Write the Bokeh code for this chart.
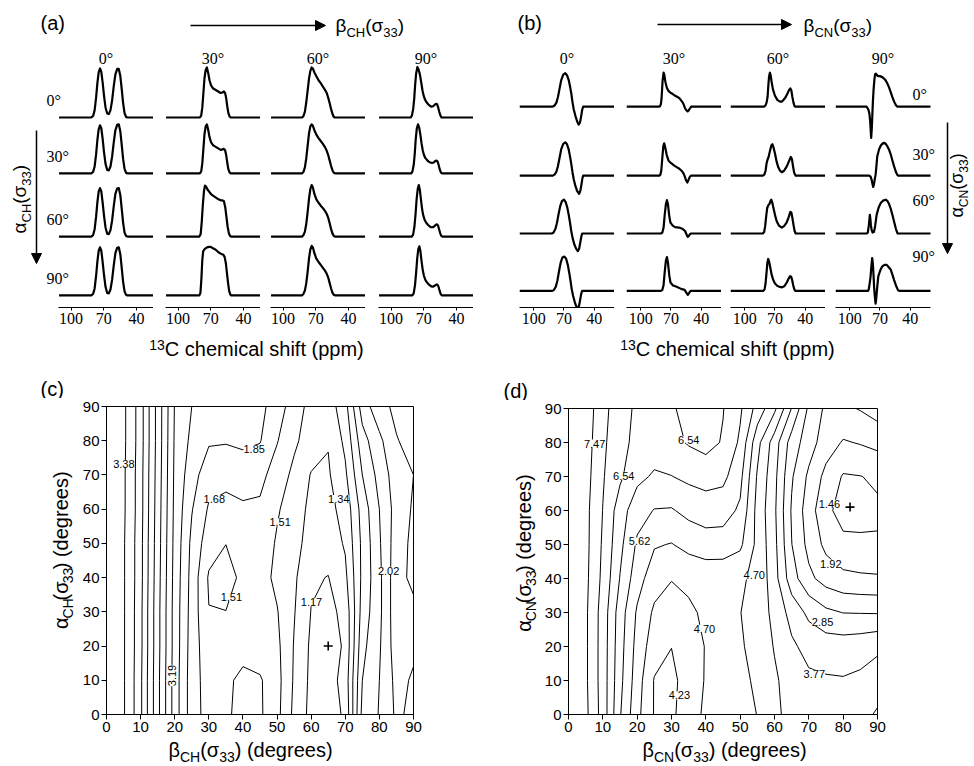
import numpy as np
from bokeh.plotting import figure
from bokeh.layouts import row, column
from bokeh.models import Range1d, Label, Arrow, NormalHead, FixedTicker, Spacer
from bokeh.embed import file_html
from bokeh.resources import INLINE

# ======================= DATA =======================
ANGLES = [0, 30, 60, 90]
ANGLE_TEXT = ["0°", "30°", "60°", "90°"]
PPM_TICKS = [100, 70, 40]

# ---- panel (a): CH dipolar-coupled spectra, (ppm, intensity)
A_B00_A00 = [(111,0),(81.5,0),(79.8,0.03),(78.4,0.15),(77.1,0.4),(75.9,0.7),(74.7,0.92),(73.5,1.0),(72.3,0.93),(71.1,0.72),(69.8,0.44),(68.4,0.2),(66.9,0.08),(65.4,0.07),(63.9,0.15),(62.4,0.35),(60.9,0.64),(59.4,0.88),(57.8,0.99),(56.3,0.99),(54.9,0.85),(53.6,0.58),(52.3,0.29),(51,0.09),(49.6,0.01),(48.3,0),(24,0)]
A_B00_A30 = [(111,0),(81.5,0),(79.8,0.03),(78.4,0.14),(77.1,0.38),(75.9,0.68),(74.7,0.9),(73.5,0.98),(72.3,0.92),(71.1,0.71),(69.8,0.43),(68.4,0.19),(66.9,0.07),(65.4,0.06),(63.9,0.14),(62.4,0.34),(60.9,0.63),(59.4,0.88),(57.8,0.99),(56.3,1.0),(54.9,0.86),(53.6,0.58),(52.3,0.29),(51,0.09),(49.6,0.01),(48.3,0),(24,0)]
A_B00_A60 = [(111,0),(81.5,0),(79.8,0.03),(78.4,0.15),(77.1,0.4),(75.9,0.7),(74.7,0.92),(73.5,0.99),(72.3,0.92),(71.1,0.7),(69.8,0.42),(68.4,0.18),(66.9,0.06),(65.4,0.05),(63.9,0.13),(62.4,0.33),(60.9,0.62),(59.4,0.87),(57.8,0.98),(56.3,0.99),(54.9,0.85),(53.6,0.57),(52.3,0.28),(51,0.08),(49.6,0.01),(48.3,0),(24,0)]
A_B00_A90 = [(111,0),(81.5,0),(79.8,0.03),(78.4,0.14),(77.1,0.39),(75.9,0.69),(74.7,0.91),(73.5,0.98),(72.3,0.91),(71.1,0.69),(69.8,0.41),(68.4,0.17),(66.9,0.05),(65.4,0.04),(63.9,0.12),(62.4,0.32),(60.9,0.61),(59.4,0.86),(57.8,0.97),(56.3,0.98),(54.9,0.84),(53.6,0.56),(52.3,0.27),(51,0.08),(49.6,0.01),(48.3,0),(24,0)]
A_B30_A00 = [(111,0),(80,0),(78.8,0.04),(77.8,0.2),(76.8,0.5),(75.8,0.8),(74.7,0.97),(73.6,1.02),(72.5,0.92),(71.2,0.76),(69.7,0.65),(67.8,0.59),(65.5,0.56),(63.2,0.53),(61,0.5),(59.4,0.51),(58,0.53),(56.9,0.5),(55.9,0.39),(54.9,0.22),(53.9,0.09),(52.8,0.02),(51.8,0),(24,0)]
A_B30_A30 = [(111,0),(80,0),(78.8,0.04),(77.8,0.2),(76.8,0.5),(75.8,0.8),(74.7,0.96),(73.6,1.0),(72.5,0.9),(71.2,0.74),(69.7,0.63),(67.8,0.57),(65.5,0.54),(63.2,0.51),(61,0.48),(59.4,0.49),(58,0.5),(56.9,0.47),(55.9,0.37),(54.9,0.21),(53.9,0.08),(52.8,0.02),(51.8,0),(24,0)]
A_B30_A60 = [(111,0),(80.5,0),(79.3,0.05),(78.3,0.3),(77.3,0.65),(76.3,0.92),(75.4,1.04),(74.4,1.02),(73,0.96),(71,0.9),(69,0.85),(67,0.82),(65,0.79),(63,0.76),(61,0.74),(59.3,0.74),(58,0.72),(56.8,0.6),(55.7,0.4),(54.6,0.2),(53.4,0.06),(52.3,0.01),(51.5,0),(24,0)]
A_B30_A90 = [(111,0),(80.5,0),(79.5,0.05),(78.6,0.35),(77.8,0.72),(77,0.9),(75.5,0.95),(73.5,0.98),(71.5,0.99),(70,0.99),(68,0.96),(65.5,0.93),(63,0.88),(60.9,0.85),(58.5,0.83),(57.3,0.78),(56.2,0.65),(55.2,0.45),(54.2,0.25),(53.2,0.09),(52.2,0.02),(51.3,0),(24,0)]
A_B60_A00 = [(111,0),(82.5,0),(81.3,0.03),(80,0.12),(78.8,0.3),(77.5,0.55),(76.2,0.8),(75,0.95),(73.8,1.02),(72.7,1.0),(71.3,0.92),(69.5,0.84),(67.5,0.76),(65.5,0.7),(63.5,0.63),(61.5,0.56),(60,0.5),(58.6,0.4),(57.3,0.29),(56,0.17),(54.7,0.07),(53.5,0.01),(52.5,0),(24,0)]
A_B60_A30 = [(111,0),(82.5,0),(81.3,0.03),(80,0.12),(78.8,0.3),(77.5,0.56),(76.2,0.82),(75,0.96),(73.8,1.0),(72.7,0.97),(71.3,0.88),(69.5,0.79),(67.5,0.72),(65.5,0.66),(63.5,0.6),(61.5,0.53),(60,0.46),(58.6,0.37),(57.3,0.26),(56,0.15),(54.7,0.06),(53.5,0.01),(52.5,0),(24,0)]
A_B60_A60 = [(111,0),(82.5,0),(81.3,0.03),(80,0.1),(78.8,0.25),(77.5,0.5),(76.2,0.78),(75,0.97),(73.8,1.05),(72.7,1.0),(71.3,0.87),(69.5,0.76),(67.5,0.69),(65.5,0.63),(63.5,0.58),(61.5,0.52),(60,0.46),(58.6,0.38),(57.3,0.27),(56,0.15),(54.7,0.06),(53.5,0.01),(52.5,0),(24,0)]
A_B60_A90 = [(111,0),(82.5,0),(81.3,0.03),(80,0.1),(78.8,0.24),(77.5,0.48),(76.2,0.76),(75,0.94),(73.8,1.01),(72.7,0.98),(71.3,0.86),(69.5,0.75),(67.5,0.68),(65.5,0.62),(63.5,0.56),(61.5,0.5),(60,0.44),(58.6,0.36),(57.3,0.25),(56,0.14),(54.7,0.05),(53.5,0.01),(52.5,0),(24,0)]
A_B90_A00 = [(111,0),(82,0),(80.9,0.04),(79.7,0.18),(78.8,0.38),(77.9,0.68),(77,0.9),(75.9,1.03),(74.8,0.98),(73.6,0.88),(72.4,0.72),(71.2,0.55),(70.1,0.44),(69,0.37),(67.5,0.31),(66,0.27),(64.5,0.24),(63,0.22),(61.5,0.23),(60,0.26),(58.8,0.28),(57.8,0.27),(56.8,0.2),(55.8,0.11),(54.8,0.04),(53.8,0),(24,0)]
A_B90_A30 = [(111,0),(81.5,0),(80.4,0.04),(79.2,0.18),(78.3,0.4),(77.4,0.7),(76.4,0.92),(75.3,1.0),(74.2,0.93),(73.1,0.78),(72,0.6),(70.9,0.46),(69.8,0.37),(68.5,0.31),(67,0.27),(65.5,0.24),(64,0.22),(62.5,0.21),(61,0.22),(59.6,0.25),(58.4,0.26),(57.4,0.24),(56.4,0.17),(55.4,0.08),(54.4,0.02),(53.5,0),(24,0)]
A_B90_A60 = [(111,0),(81,0),(79.8,0.04),(78.6,0.2),(77.6,0.45),(76.6,0.76),(75.6,0.97),(74.6,1.05),(73.6,0.95),(72.6,0.75),(71.5,0.55),(70.4,0.42),(69.2,0.34),(67.8,0.28),(66.3,0.24),(64.8,0.21),(63.3,0.19),(61.8,0.19),(60.3,0.21),(59,0.24),(57.9,0.25),(56.9,0.22),(55.9,0.14),(54.9,0.06),(53.9,0.01),(53,0),(24,0)]
A_B90_A90 = [(111,0),(80.5,0),(79.3,0.04),(78.1,0.2),(77.1,0.45),(76.1,0.74),(75.1,0.94),(74.1,1.0),(73.1,0.9),(72.1,0.7),(71,0.52),(69.9,0.4),(68.7,0.32),(67.3,0.27),(65.8,0.23),(64.3,0.2),(62.8,0.18),(61.3,0.18),(59.8,0.2),(58.6,0.22),(57.6,0.22),(56.6,0.18),(55.6,0.1),(54.6,0.03),(53.6,0),(24,0)]

# ---- panel (b): CN dipolar-coupled spectra
B_B00_A00 = [(114,0),(81,0),(79.3,0.02),(77.5,0.08),(76,0.19),(74.3,0.37),(72.7,0.54),(70.7,0.65),(68.7,0.68),(67,0.64),(65.3,0.54),(64,0.41),(62.7,0.26),(61.5,0.08),(60.3,-0.06),(58.7,-0.19),(57,-0.3),(55.5,-0.37),(54.2,-0.33),(53,-0.2),(52,-0.07),(51,0),(20,0)]
B_B00_A30 = [(114,0),(81,0),(79.3,0.02),(77.5,0.08),(76,0.19),(74.3,0.37),(72.7,0.54),(70.7,0.65),(68.7,0.68),(67,0.64),(65.3,0.53),(64,0.39),(62.7,0.23),(61.5,0.06),(60.3,-0.08),(58.7,-0.21),(57,-0.31),(55,-0.37),(53.8,-0.31),(52.7,-0.18),(51.8,-0.06),(51,0),(20,0)]
B_B00_A60 = [(114,0),(82,0),(80.3,0.02),(78.5,0.09),(77,0.21),(75.3,0.4),(73.7,0.56),(72,0.66),(70,0.69),(68.3,0.64),(66.7,0.53),(65.3,0.38),(64,0.22),(62.8,0.05),(61.5,-0.09),(59.8,-0.22),(58,-0.31),(56.3,-0.36),(55,-0.31),(53.8,-0.18),(52.8,-0.06),(52,0),(20,0)]
B_B00_A90 = [(114,0),(81.5,0),(79.8,0.02),(78,0.09),(76.5,0.21),(74.8,0.41),(73.2,0.58),(71.5,0.68),(69.5,0.7),(67.8,0.65),(66.2,0.53),(64.8,0.37),(63.5,0.2),(62.3,0.03),(61,-0.1),(59.3,-0.23),(57.8,-0.32),(56.3,-0.36),(55,-0.3),(53.8,-0.16),(52.8,-0.05),(52,0),(20,0)]
B_B30_A00 = [(114,0),(81.5,0),(80.7,0.01),(79.9,0.06),(79.3,0.17),(78.3,0.52),(77.3,0.69),(76.5,0.64),(75.5,0.5),(74,0.38),(72.5,0.32),(70.5,0.28),(68.5,0.26),(66.7,0.23),(64,0.2),(61.7,0.17),(59.8,0.12),(58.3,0.08),(57.2,0.03),(56.2,-0.03),(55,-0.07),(53.5,-0.1),(52.5,-0.08),(51.3,-0.04),(50,0),(20,0)]
B_B30_A30 = [(114,0),(81.5,0),(80.5,0.02),(79.6,0.1),(78.6,0.35),(77.6,0.6),(76.7,0.66),(75.7,0.58),(74.3,0.43),(72.5,0.31),(70.2,0.26),(67,0.21),(64,0.17),(61.7,0.14),(59,0.09),(57.5,0.04),(56.3,-0.02),(55,-0.1),(53.8,-0.14),(52.7,-0.09),(51.5,-0.03),(50.3,0),(20,0)]
B_B30_A60 = [(114,0),(80,0),(78.5,0.02),(77.3,0.12),(76.2,0.38),(75,0.6),(74,0.68),(73,0.6),(71.7,0.36),(70.5,0.22),(68.3,0.16),(66,0.13),(62,0.12),(58.3,0.09),(56,0.05),(55,0),(54,-0.05),(53.3,-0.07),(52.3,-0.05),(51,-0.01),(50,0),(20,0)]
B_B30_A90 = [(114,0),(80,0),(78.5,0.02),(77.3,0.12),(76.2,0.38),(75,0.62),(74,0.69),(73,0.58),(71.7,0.32),(70.5,0.17),(68,0.11),(65,0.09),(60,0.04),(56.5,0.02),(55,-0.03),(53.3,-0.08),(52.3,-0.05),(51,-0.01),(50,0),(20,0)]
B_B60_A00 = [(114,0),(80.5,0),(79.5,0.02),(78.3,0.08),(77.3,0.2),(76.5,0.45),(75.8,0.62),(75,0.69),(74.2,0.63),(73.3,0.5),(72,0.35),(70,0.22),(67.5,0.13),(65,0.1),(63.3,0.1),(61.7,0.13),(59.5,0.19),(57.5,0.27),(56,0.34),(54.8,0.37),(53.8,0.33),(52.8,0.2),(51.7,0.08),(50.7,0.01),(50,0),(20,0)]
B_B60_A30 = [(114,0),(82,0),(80.5,0.02),(79.3,0.1),(78.3,0.25),(77.3,0.33),(76.3,0.38),(75,0.5),(73.5,0.62),(72.5,0.64),(71.5,0.58),(70,0.45),(68.3,0.28),(66.7,0.17),(65,0.1),(63.3,0.07),(61,0.1),(58.3,0.19),(56,0.3),(54.3,0.38),(53.2,0.34),(52.2,0.2),(51,0.06),(49.5,0),(20,0)]
B_B60_A60 = [(114,0),(82,0),(80.7,0.03),(79.7,0.15),(78.7,0.35),(77.7,0.52),(76.5,0.58),(75.5,0.6),(74.5,0.66),(73.7,0.69),(72.8,0.64),(71.5,0.52),(70,0.38),(68.3,0.25),(66,0.16),(63.3,0.12),(61,0.15),(58.5,0.22),(56.5,0.33),(54.8,0.44),(53.8,0.43),(52.8,0.32),(51.7,0.18),(50.7,0.06),(49.5,0),(20,0)]
B_B60_A90 = [(114,0),(81.5,0),(80.3,0.03),(79.3,0.15),(78.3,0.38),(77.5,0.58),(76.7,0.65),(75.8,0.6),(74.7,0.48),(73.3,0.33),(71.7,0.22),(70,0.15),(67.5,0.1),(65,0.08),(63,0.07),(60.5,0.1),(58.3,0.17),(56.5,0.25),(55,0.3),(54,0.29),(53,0.22),(52,0.12),(51,0.04),(50,0),(20,0)]
B_B90_A00 = [(114,0),(83.5,0),(82.7,-0.02),(81.5,-0.06),(80.5,-0.14),(79.7,-0.3),(79,-0.55),(78.7,-0.64),(78.1,-0.45),(77.5,-0.15),(77,0.1),(76.3,0.35),(75.5,0.55),(74.8,0.66),(74,0.67),(73,0.64),(72,0.62),(70,0.62),(67.7,0.6),(66,0.57),(64.3,0.53),(62.7,0.47),(61,0.39),(59.3,0.29),(57.7,0.19),(56,0.1),(54.3,0.03),(53,0),(20,0)]
B_B90_A30 = [(114,0),(80.5,0),(79.3,-0.02),(78.3,-0.08),(77.3,-0.18),(76.7,-0.23),(76,-0.18),(75.3,-0.09),(74.3,0.02),(73.5,0.2),(72.7,0.39),(71,0.53),(69.3,0.61),(67.7,0.65),(66,0.67),(64.3,0.65),(62.7,0.6),(61,0.53),(59.3,0.43),(57.7,0.31),(56,0.19),(54.3,0.08),(52.7,0.01),(52,0),(20,0)]
B_B90_A60 = [(114,0),(83,0),(82,0.02),(81,0.17),(80.3,0.32),(80,0.38),(79.5,0.3),(79,0.17),(78.2,0.07),(77.3,0.02),(76,0.03),(75,0.12),(73.3,0.38),(71.3,0.53),(69.3,0.62),(67,0.67),(64.3,0.69),(62.5,0.66),(61,0.6),(59.3,0.5),(57.7,0.38),(56,0.24),(54.3,0.1),(53.2,0.03),(52.5,0),(20,0)]
B_B90_A90 = [(114,0),(81.7,0),(81,0.04),(80.2,0.15),(79.3,0.29),(78.5,0.5),(77.7,0.67),(77,0.55),(76.3,0.29),(75.8,0.08),(75.3,-0.06),(74.8,-0.18),(74.3,-0.26),(73.8,-0.18),(73.3,-0.06),(72.5,0.12),(71.7,0.29),(69.7,0.42),(67.7,0.5),(65.5,0.53),(63.3,0.53),(61.3,0.48),(59.3,0.43),(57.7,0.33),(56,0.22),(54,0.1),(52,0.01),(51,0),(20,0)]

# ---- panel (c): grid (rows = alpha_CH, columns = beta_CH)
C_BETA = [0, 5, 10, 15, 20, 25, 30, 35, 40, 45, 50, 55, 60, 65, 70, 75, 80, 85, 90]
C_ALPHA = [0, 10, 20, 30, 40, 50, 60, 70, 80, 90]
C_Z_A00 = [3.50, 3.40, 3.06, 2.58, 2.11, 1.76, 1.61, 1.53, 1.47, 1.50, 1.56, 1.30, 1.12, 1.08, 1.20, 1.90, 2.03, 2.22, 2.15]
C_Z_A10 = [3.50, 3.40, 3.06, 2.58, 2.11, 1.76, 1.60, 1.535, 1.48, 1.50, 1.57, 1.32, 1.13, 1.09, 1.24, 1.85, 2.02, 2.24, 2.17]
C_Z_A20 = [3.50, 3.40, 3.07, 2.59, 2.12, 1.77, 1.57, 1.53, 1.555, 1.56, 1.55, 1.33, 1.14, 1.07, 1.20, 1.80, 2.00, 2.28, 2.22]
C_Z_A30 = [3.50, 3.40, 3.07, 2.59, 2.12, 1.78, 1.515, 1.512, 1.56, 1.58, 1.52, 1.35, 1.165, 1.12, 1.22, 1.75, 1.98, 2.30, 2.32]
C_Z_A40 = [3.50, 3.40, 3.08, 2.60, 2.13, 1.79, 1.49, 1.46, 1.54, 1.58, 1.47, 1.37, 1.19, 1.165, 1.30, 1.72, 1.98, 2.30, 2.40]
C_Z_A50 = [3.50, 3.40, 3.08, 2.61, 2.14, 1.81, 1.585, 1.512, 1.59, 1.62, 1.49, 1.40, 1.27, 1.24, 1.36, 1.72, 2.00, 2.28, 2.40]
C_Z_A60 = [3.50, 3.41, 3.09, 2.62, 2.15, 1.86, 1.66, 1.64, 1.66, 1.65, 1.53, 1.42, 1.30, 1.29, 1.40, 1.75, 2.02, 2.26, 2.38]
C_Z_A70 = [3.51, 3.41, 3.09, 2.63, 2.16, 1.92, 1.75, 1.72, 1.74, 1.73, 1.60, 1.47, 1.33, 1.32, 1.48, 1.85, 2.08, 2.28, 2.36]
C_Z_A80 = [3.51, 3.42, 3.10, 2.64, 2.17, 1.98, 1.87, 1.865, 1.89, 1.86, 1.69, 1.54, 1.43, 1.35, 1.55, 1.95, 2.15, 2.35, 2.42]
C_Z_A90 = [3.52, 3.42, 3.10, 2.64, 2.18, 2.02, 1.92, 1.91, 1.93, 1.90, 1.76, 1.60, 1.45, 1.42, 1.62, 2.10, 2.30, 2.40, 2.50]
C_LEVELS = [1.17, 1.34, 1.51, 1.68, 1.85, 2.02, 2.19, 2.36, 2.53, 2.70, 2.87, 3.03, 3.19, 3.38]
C_LABEL_TEXT = ["3.38", "1.85", "1.68", "1.34", "1.51", "1.51", "1.17", "2.02", "3.19"]
C_LABEL_BETA = [5.1, 43.3, 31.6, 68.1, 50.9, 36.6, 60.1, 82.7, 19.2]
C_LABEL_ALPHA = [73.2, 77.6, 63.0, 63.0, 56.2, 34.3, 32.8, 42.0, 11.4]
C_LABEL_ROT = [0, 0, 0, 0, 0, 0, 0, 0, 90]
C_MIN_BETA = [65]
C_MIN_ALPHA = [20]

# ---- panel (d): grid (rows = alpha_CN, columns = beta_CN)
D_BETA = [0, 5, 10, 15, 20, 25, 30, 35, 40, 45, 50, 55, 60, 65, 70, 75, 80, 85, 90]
D_ALPHA = [0, 10, 20, 30, 40, 50, 60, 70, 80, 90]
D_Z_A00 = [7.90, 7.58, 6.82, 5.66, 4.83, 4.20, 4.10, 4.60, 4.74, 4.88, 4.88, 4.69, 4.35, 4.05, 3.95, 3.90, 3.92, 4.05, 4.30]
D_Z_A10 = [7.90, 7.55, 6.80, 5.75, 4.92, 4.20, 4.05, 4.55, 4.72, 4.85, 4.82, 4.62, 4.30, 4.02, 3.86, 3.82, 3.80, 3.85, 3.95]
D_Z_A20 = [7.90, 7.55, 6.80, 5.80, 5.00, 4.45, 4.24, 4.50, 4.72, 4.80, 4.75, 4.55, 4.20, 3.85, 3.62, 3.55, 3.55, 3.60, 3.70]
D_Z_A30 = [7.90, 7.55, 6.81, 5.85, 5.10, 4.62, 4.48, 4.62, 4.78, 4.78, 4.71, 4.50, 4.10, 3.60, 3.20, 2.95, 2.84, 2.83, 2.82]
D_Z_A40 = [7.90, 7.58, 6.90, 6.06, 5.35, 4.90, 4.72, 4.80, 4.86, 4.82, 4.76, 4.60, 3.95, 3.05, 2.50, 2.20, 2.05, 2.00, 1.98]
D_Z_A50 = [7.90, 7.60, 6.95, 6.20, 5.55, 5.20, 5.14, 5.30, 5.40, 5.42, 5.25, 4.58, 3.90, 2.86, 2.25, 1.80, 1.55, 1.52, 1.50]
D_Z_A60 = [7.90, 7.60, 7.00, 6.30, 5.80, 5.60, 5.58, 5.75, 5.85, 5.80, 5.55, 4.55, 3.85, 2.80, 2.15, 1.55, 1.32, 1.35, 1.40]
D_Z_A70 = [7.90, 7.65, 7.05, 6.62, 6.20, 6.02, 6.07, 6.18, 6.25, 6.20, 5.75, 4.65, 3.90, 2.90, 2.30, 1.78, 1.42, 1.45, 1.52]
D_Z_A80 = [7.90, 7.70, 7.10, 6.70, 6.40, 6.32, 6.40, 6.58, 6.70, 6.50, 6.00, 4.85, 4.00, 3.10, 2.60, 2.15, 1.88, 1.95, 2.05]
D_Z_A90 = [7.92, 7.75, 7.15, 6.75, 6.45, 6.42, 6.50, 6.65, 6.75, 6.56, 6.15, 5.45, 4.80, 3.75, 2.75, 2.30, 2.30, 2.42, 2.60]
D_LEVELS = [1.46, 1.92, 2.39, 2.85, 3.31, 3.77, 4.23, 4.70, 5.16, 5.62, 6.08, 6.54, 7.01, 7.47]
D_LABEL_TEXT = ["7.47", "6.54", "6.54", "5.62", "4.70", "4.70", "4.23", "3.77", "2.85", "1.92", "1.46"]
D_LABEL_BETA = [7.6, 16.1, 35.0, 20.7, 54.1, 39.6, 32.3, 71.6, 74.0, 76.4, 76.0]
D_LABEL_ALPHA = [79.7, 70.2, 80.7, 50.9, 40.9, 25.2, 5.6, 12.0, 27.2, 44.4, 62.0]
D_MIN_BETA = [82]
D_MIN_ALPHA = [61]

# ======================= HELPERS =======================
SANS = "Liberation Sans"
SERIF = "Liberation Serif"
INK = "black"
EM = {'(': .333, ')': .333, ' ': .278, '.': .278, 'C': .722, 'H': .722, 'N': .722,
      'd': .556, 'e': .556, 'g': .556, 'r': .333, 's': .5, 'β': .575, 'σ': .617,
      'α': .578, 'c': .5, 'h': .556, 'm': .833, 'i': .222, 'a': .556, 'l': .222,
      'f': .278, 't': .278, 'p': .556}


def tw(s, size):
    return sum(EM.get(ch, .556) for ch in s) * size


def rich(p, x0, y0, pieces, size, small, sx=1.0, sy=1.0, vertical=False, center=False):
    """Text with sub/superscripts built from pieces placed along a baseline (x0, y0).
    pieces: (text, kind) with kind 'n', 'sub' or 'sup'; sx/sy = data units per screen pixel."""
    widths = [tw(t, small if k != 'n' else size) for t, k in pieces]
    pos = -sum(widths) / 2 if center else 0.0
    for (t, k), w in zip(pieces, widths):
        fs = size if k == 'n' else small
        shift = {'n': 0.0, 'sub': -0.28 * size, 'sup': 0.30 * size}[k]
        mid = shift + 0.33 * fs          # centre of the glyph box above the baseline
        if vertical:
            x, y, ang = x0 - mid * sx, y0 + pos * sy, np.pi / 2
        else:
            x, y, ang = x0 + pos * sx, y0 + mid * sy, 0.0
        p.add_layout(Label(x=x, y=y, text=t, angle=ang, text_font=SANS,
                           text_font_size=f"{fs}px", text_align="left",
                           text_baseline="middle", text_color=INK))
        pos += w


def plain(width, height):
    p = figure(width=width, height=height, x_range=Range1d(0, width), y_range=Range1d(0, height),
               output_backend="svg", toolbar_location=None, title=None,
               x_axis_location=None, y_axis_location=None, min_border=0)
    p.outline_line_color = None
    p.xgrid.visible = False
    p.ygrid.visible = False
    return p


def spec_col(width, xr, yr, head, head_y, spectra, offsets, bounds=None):
    p = figure(width=width, height=290, x_range=xr, y_range=yr, output_backend="svg",
               toolbar_location=None, y_axis_location=None, title=None,
               min_border_left=0, min_border_right=0, min_border_top=0, min_border_bottom=28)
    p.outline_line_color = None
    p.xgrid.visible = False
    p.ygrid.visible = False
    for pts, off in zip(spectra, offsets):
        p.line([q[0] for q in pts], [q[1] + off for q in pts],
               line_color="black", line_width=2.2, line_join="round")
    lo, hi = (bounds if bounds else (min(xr.start, xr.end), max(xr.start, xr.end)))
    p.add_layout(Label(x=(lo + hi) / 2, y=head_y, text=head, text_font=SERIF, text_color=INK,
                       text_font_size="16px", text_align="center", text_baseline="middle"))
    ax = p.xaxis[0]
    ax.ticker = FixedTicker(ticks=PPM_TICKS, minor_ticks=[])
    if bounds:
        ax.bounds = bounds
    ax.major_label_text_font = "Liberation Sans Narrow"
    ax.major_label_text_font_size = "16px"
    ax.major_label_text_color = INK
    ax.major_tick_out = 3
    ax.major_tick_in = 0
    ax.minor_tick_out = 0
    ax.minor_tick_in = 0
    ax.major_label_standoff = 2
    ax.axis_line_width = 1
    ax.axis_line_color = INK
    ax.major_tick_line_color = INK
    return p


def head_arrow(p, xs, ys, xe, ye):
    p.add_layout(Arrow(end=NormalHead(size=10, fill_color="black", line_color="black"),
                       x_start=xs, y_start=ys, x_end=xe, y_end=ye,
                       line_width=1.5, line_color="black"))


# ======================= TOP: panels (a) and (b) =======================
PX = 49.0  # screen pixels per intensity unit
A_OFF = [0, -1.14, -2.43, -3.63]
B_OFF = [0, -1.41, -2.59, -3.76]
yA = Range1d(-3.878, 1.469)
yB = Range1d(-4.10, 1.245)

A_SPEC = [[A_B00_A00, A_B00_A30, A_B00_A60, A_B00_A90],
          [A_B30_A00, A_B30_A30, A_B30_A60, A_B30_A90],
          [A_B60_A00, A_B60_A30, A_B60_A60, A_B60_A90],
          [A_B90_A00, A_B90_A30, A_B90_A60, A_B90_A90]]
B_SPEC = [[B_B00_A00, B_B00_A30, B_B00_A60, B_B00_A90],
          [B_B30_A00, B_B30_A30, B_B30_A60, B_B30_A90],
          [B_B60_A00, B_B60_A30, B_B60_A60, B_B60_A90],
          [B_B90_A00, B_B90_A30, B_B90_A60, B_B90_A90]]

pxA = 95 / 87.0      # px per ppm in (a)
pxB = 95 / 94.0      # px per ppm in (b)
colsA = [spec_col(153, Range1d(111.5 + 58 / pxA, 24.5), yA, ANGLE_TEXT[0], 1.204,
                  A_SPEC[0], A_OFF, bounds=(24.5, 111.5))]
colsA += [spec_col(95, Range1d(111.5, 24.5), yA, ANGLE_TEXT[i], 1.204, A_SPEC[i], A_OFF)
          for i in range(1, 4)]
colsB = [spec_col(95, Range1d(114, 20), yB, ANGLE_TEXT[i], 0.98, B_SPEC[i], B_OFF)
         for i in range(3)]
colsB += [spec_col(137, Range1d(114, 20 - 42 / pxB), yB, ANGLE_TEXT[3], 0.98,
                   B_SPEC[3], B_OFF, bounds=(20, 114))]

# (a) row labels, alpha arrow and alpha title inside the widened first column
c1 = colsA[0]
for off, t in zip(A_OFF, ANGLE_TEXT):
    c1.add_layout(Label(x=111.5 + 12 / pxA, y=off + 0.35, text=t, text_font=SERIF, text_color=INK,
                        text_font_size="16px", text_align="left", text_baseline="middle"))
head_arrow(c1, 111.5 + 22 / pxA, -0.265, 111.5 + 22 / pxA, -2.98)
rich(c1, 111.5 + 33 / pxA, -2.367, [("α", 'n'), ("CH", 'sub'), ("(σ", 'n'), ("33", 'sub'), (")", 'n')],
     19, 13, sx=-1 / pxA, sy=1 / PX, vertical=True)

# (b) row labels, alpha arrow and alpha title inside the widened last column
c4 = colsB[3]
B_ROW_LABEL_Y = [0.245, -0.97, -1.92, -3.05]
for yy, t in zip(B_ROW_LABEL_Y, ANGLE_TEXT):
    c4.add_layout(Label(x=114 - 77 / pxB, y=yy, text=t, text_font=SERIF, text_font_size="16px",
                        text_color=INK, text_align="left", text_baseline="middle"))
head_arrow(c4, 20 - 17 / pxB, -0.327, 20 - 17 / pxB, -3.0)
rich(c4, 20 - 32 / pxB, -2.265, [("α", 'n'), ("CN", 'sub'), ("(σ", 'n'), ("33", 'sub'), (")", 'n')],
     18, 12, sx=-1 / pxB, sy=1 / PX, vertical=True)

# header
header = plain(972, 45)
header.add_layout(Label(x=40, y=23, text="(a)", text_font=SANS, text_font_size="20px",
                        text_color=INK, text_baseline="middle"))
header.add_layout(Label(x=517, y=23, text="(b)", text_font=SANS, text_font_size="20px",
                        text_color=INK, text_baseline="middle"))
head_arrow(header, 190, 20, 325, 20)
head_arrow(header, 657, 21, 791, 21)
rich(header, 335, 14, [("β", 'n'), ("CH", 'sub'), ("(σ", 'n'), ("33", 'sub'), (")", 'n')], 19, 13)
rich(header, 803, 14, [("β", 'n'), ("CN", 'sub'), ("(σ", 'n'), ("33", 'sub'), (")", 'n')], 19, 13)

# footer (x-axis titles of the spectra)
footer = plain(972, 27)
for cx in (256, 727):
    rich(footer, cx, 7, [("13", 'sup'), ("C chemical shift (ppm)", 'n')], 20, 14, center=True)

top_row = row(colsA[0], Spacer(width=12, height=290), colsA[1],
              Spacer(width=10, height=290), colsA[2], Spacer(width=13, height=290), colsA[3],
              Spacer(width=46, height=290), colsB[0], Spacer(width=12, height=290), colsB[1],
              Spacer(width=9, height=290), colsB[2], Spacer(width=10, height=290), colsB[3])


# ======================= BOTTOM: contour maps (c) and (d) =======================
def contour_block(tag_h, ylab_w, right, frame_w, frame_h, beta, alpha, rows, levels,
                  ltext, lbeta, lalpha, lrot, mb, ma, tag, tag_x, sub, ylab_center, ylab_x, xlab_cx):
    plot_w = 26 + frame_w + right
    plot_h = 8 + frame_h + 26
    total_w = ylab_w + plot_w
    p = figure(width=plot_w, height=plot_h, x_range=Range1d(0, 90), y_range=Range1d(0, 90),
               output_backend="svg", toolbar_location=None, title=None,
               min_border_left=26, min_border_right=right, min_border_top=8, min_border_bottom=26)
    p.xgrid.visible = False
    p.ygrid.visible = False
    p.outline_line_color = "black"
    p.outline_line_width = 1
    p.contour(x=beta, y=alpha, z=np.array(rows, dtype=float), levels=levels,
              line_color="black", line_width=1)
    p.scatter(x=mb, y=ma, marker="cross", size=9, line_color="black", line_width=1.6)
    for ax in (p.xaxis[0], p.yaxis[0]):
        ax.ticker = FixedTicker(ticks=list(range(0, 91, 10)), minor_ticks=[])
        ax.major_label_text_font = SANS
        ax.major_label_text_font_size = "15px"
        ax.major_label_text_color = INK
        ax.axis_line_color = INK
        ax.major_tick_line_color = INK
        ax.major_tick_out = 5
        ax.major_tick_in = 0
        ax.minor_tick_out = 0
        ax.minor_tick_in = 0
        ax.major_label_standoff = 2
    for t, b, a, r in zip(ltext, lbeta, lalpha, lrot):
        p.add_layout(Label(x=b, y=a, text=t, text_font=SANS, text_font_size="11px",
                           text_color=INK, text_align="center", text_baseline="middle",
                           angle=np.deg2rad(r), background_fill_color="white"))
    tg = plain(total_w, tag_h)
    tg.add_layout(Label(x=tag_x, y=10, text=tag, text_font=SANS, text_font_size="20px",
                        text_color=INK, text_baseline="middle"))
    yl = plain(ylab_w, plot_h)
    rich(yl, ylab_x, ylab_center, [("α", 'n'), (sub, 'sub'), ("(σ", 'n'), ("33", 'sub'),
                                   (") (degrees)", 'n')], 20, 14, vertical=True, center=True)
    xl = plain(total_w, 24)
    rich(xl, xlab_cx, 8, [("β", 'n'), (sub, 'sub'), ("(σ", 'n'), ("33", 'sub'),
                          (") (degrees)", 'n')], 20, 14, center=True)
    return column(tg, row(yl, p), xl)


C_ROWS = [C_Z_A00, C_Z_A10, C_Z_A20, C_Z_A30, C_Z_A40, C_Z_A50, C_Z_A60, C_Z_A70, C_Z_A80, C_Z_A90]
D_ROWS = [D_Z_A00, D_Z_A10, D_Z_A20, D_Z_A30, D_Z_A40, D_Z_A50, D_Z_A60, D_Z_A70, D_Z_A80, D_Z_A90]

blockC = contour_block(36, 79, 10, 308, 308, C_BETA, C_ALPHA, C_ROWS, C_LEVELS,
                       C_LABEL_TEXT, C_LABEL_BETA, C_LABEL_ALPHA, C_LABEL_ROT,
                       C_MIN_BETA, C_MIN_ALPHA, "(c)", 40, "CH", 177, 67, 250)
blockD = contour_block(38, 45, 20, 310, 306, D_BETA, D_ALPHA, D_ROWS, D_LEVELS,
                       D_LABEL_TEXT, D_LABEL_BETA, D_LABEL_ALPHA, [0] * len(D_LABEL_TEXT),
                       D_MIN_BETA, D_MIN_ALPHA, "(d)", 7, "CN", 174, 34, 228)

bottom_row = row(blockC, Spacer(width=73, height=402), blockD)
layout = column(header, top_row, footer, bottom_row)

open("out.html", "w").write(file_html(layout, INLINE, title="Dipolar spectra and contour maps"))
